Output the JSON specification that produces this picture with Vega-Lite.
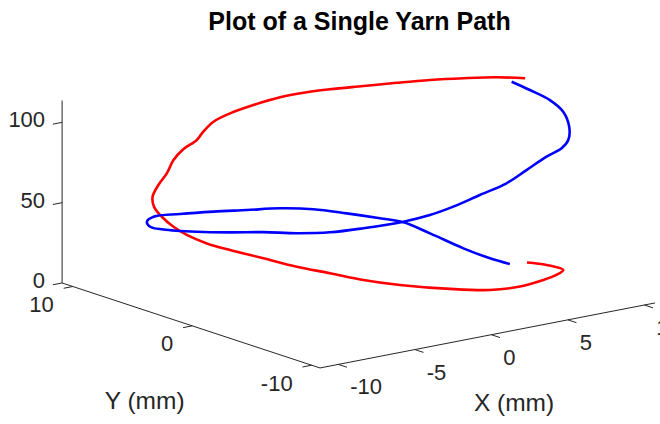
{
 "$schema": "https://vega.github.io/schema/vega-lite/v6.json",
 "width": 660,
 "height": 384,
 "autosize": {"type": "none"},
 "padding": {"left": 0, "top": 40, "right": 0, "bottom": 0},
 "background": "white",
 "title": {"text": "Plot of a Single Yarn Path", "font": "Liberation Sans", "fontSize": 25, "fontWeight": "bold", "color": "#000000", "anchor": "middle", "frame": "group", "dx": 29.5, "offset": 5},
 "config": {"view": {"stroke": null}, "text": {"font": "Liberation Sans"}},
 "data": {"values": [
  {"g":"seg","x":-11.2,"y":-10.7,"z":0,"x2":10.7,"y2":-10.7,"z2":0},
  {"g":"seg","x":-11.2,"y":-10.7,"z":0,"x2":-11.2,"y2":10.9,"z2":0},
  {"g":"seg","x":-11.2,"y":10.9,"z":0,"x2":-11.2,"y2":10.9,"z2":113.6},
  {"g":"seg","x":-10,"y":-10.7,"z":0,"x2":-10,"y2":-11.42,"z2":0},
  {"g":"seg","x":-5,"y":-10.7,"z":0,"x2":-5,"y2":-11.42,"z2":0},
  {"g":"seg","x":0,"y":-10.7,"z":0,"x2":0,"y2":-11.42,"z2":0},
  {"g":"seg","x":5,"y":-10.7,"z":0,"x2":5,"y2":-11.42,"z2":0},
  {"g":"seg","x":10,"y":-10.7,"z":0,"x2":10,"y2":-11.42,"z2":0},
  {"g":"seg","x":-11.2,"y":-10,"z":0,"x2":-11.8,"y2":-10,"z2":0},
  {"g":"seg","x":-11.2,"y":0,"z":0,"x2":-11.8,"y2":0,"z2":0},
  {"g":"seg","x":-11.2,"y":10,"z":0,"x2":-11.8,"y2":10,"z2":0},
  {"g":"seg","x":-11.2,"y":10.9,"z":0,"x2":-11.8,"y2":10.9,"z2":0},
  {"g":"seg","x":-11.2,"y":10.9,"z":50,"x2":-11.8,"y2":10.9,"z2":50},
  {"g":"seg","x":-11.2,"y":10.9,"z":100,"x2":-11.8,"y2":10.9,"z2":100},
  {"g":"red","i":1,"x":10.35,"y":-0.42,"z":0.6},
  {"g":"red","i":2,"x":10.03,"y":-2.47,"z":4.7},
  {"g":"red","i":3,"x":8.48,"y":-5.86,"z":12.7},
  {"g":"red","i":4,"x":6.12,"y":-8.30,"z":20.0},
  {"g":"red","i":5,"x":4.47,"y":-9.32,"z":22.4},
  {"g":"red","i":6,"x":2.34,"y":-10.10,"z":24.2},
  {"g":"red","i":7,"x":0.13,"y":-10.41,"z":26.9},
  {"g":"red","i":8,"x":-2.32,"y":-10.21,"z":31.6},
  {"g":"red","i":9,"x":-4.91,"y":-9.33,"z":36.7},
  {"g":"red","i":10,"x":-6.53,"y":-8.34,"z":40.4},
  {"g":"red","i":11,"x":-7.82,"y":-7.21,"z":44.2},
  {"g":"red","i":12,"x":-8.94,"y":-5.85,"z":47.0},
  {"g":"red","i":13,"x":-9.86,"y":-4.24,"z":50.0},
  {"g":"red","i":14,"x":-10.53,"y":-2.31,"z":51.6},
  {"g":"red","i":15,"x":-10.79,"y":-0.70,"z":52.3},
  {"g":"red","i":16,"x":-10.80,"y":0.97,"z":53.5},
  {"g":"red","i":17,"x":-10.60,"y":2.34,"z":54.9},
  {"g":"red","i":18,"x":-10.16,"y":3.88,"z":56.5},
  {"g":"red","i":19,"x":-9.36,"y":5.56,"z":57.2},
  {"g":"red","i":20,"x":-8.57,"y":6.69,"z":59.2},
  {"g":"red","i":21,"x":-6.92,"y":8.32,"z":59.4},
  {"g":"red","i":22,"x":-5.58,"y":9.33,"z":61.7},
  {"g":"red","i":23,"x":-4.84,"y":9.72,"z":67.7},
  {"g":"red","i":24,"x":-3.88,"y":10.13,"z":71.6},
  {"g":"red","i":25,"x":-2.73,"y":10.47,"z":74.4},
  {"g":"red","i":26,"x":-2.21,"y":10.59,"z":78.4},
  {"g":"red","i":27,"x":-1.46,"y":10.70,"z":82.9},
  {"g":"red","i":28,"x":-0.32,"y":10.77,"z":85.8},
  {"g":"red","i":29,"x":1.14,"y":10.69,"z":88.5},
  {"g":"red","i":30,"x":2.64,"y":10.38,"z":91.3},
  {"g":"red","i":31,"x":4.01,"y":9.89,"z":93.1},
  {"g":"red","i":32,"x":5.09,"y":9.34,"z":94.3},
  {"g":"red","i":33,"x":6.51,"y":8.36,"z":96.1},
  {"g":"red","i":34,"x":7.75,"y":7.15,"z":98.8},
  {"g":"red","i":35,"x":8.80,"y":5.72,"z":102.1},
  {"g":"red","i":36,"x":9.65,"y":4.01,"z":105.8},
  {"g":"red","i":37,"x":10.22,"y":1.95,"z":110.4},
  {"g":"red","i":38,"x":10.62,"y":0.08,"z":113.6},
  {"g":"blue","i":1,"x":10.62,"y":1.21,"z":108.7},
  {"g":"blue","i":2,"x":10.66,"y":-0.27,"z":107.1},
  {"g":"blue","i":3,"x":10.38,"y":-2.30,"z":106.3},
  {"g":"blue","i":4,"x":9.72,"y":-4.26,"z":105.1},
  {"g":"blue","i":5,"x":8.35,"y":-6.52,"z":103.8},
  {"g":"blue","i":6,"x":7.61,"y":-7.39,"z":99.0},
  {"g":"blue","i":7,"x":6.24,"y":-8.59,"z":99.4},
  {"g":"blue","i":8,"x":4.40,"y":-9.68,"z":100.2},
  {"g":"blue","i":9,"x":2.57,"y":-10.35,"z":96.9},
  {"g":"blue","i":10,"x":1.04,"y":-10.64,"z":92.2},
  {"g":"blue","i":11,"x":-0.75,"y":-10.70,"z":88.4},
  {"g":"blue","i":12,"x":-2.34,"y":-10.51,"z":83.6},
  {"g":"blue","i":13,"x":-3.61,"y":-10.18,"z":79.9},
  {"g":"blue","i":14,"x":-4.93,"y":-9.65,"z":76.9},
  {"g":"blue","i":15,"x":-6.72,"y":-8.58,"z":73.5},
  {"g":"blue","i":16,"x":-8.01,"y":-7.45,"z":70.6},
  {"g":"blue","i":17,"x":-9.13,"y":-6.10,"z":68.8},
  {"g":"blue","i":18,"x":-10.07,"y":-4.50,"z":67.3},
  {"g":"blue","i":19,"x":-10.76,"y":-2.61,"z":63.8},
  {"g":"blue","i":20,"x":-11.11,"y":-0.27,"z":59.1},
  {"g":"blue","i":21,"x":-10.76,"y":2.98,"z":51.9},
  {"g":"blue","i":22,"x":-9.92,"y":5.17,"z":46.7},
  {"g":"blue","i":23,"x":-8.80,"y":6.87,"z":43.6},
  {"g":"blue","i":24,"x":-6.82,"y":8.85,"z":38.2},
  {"g":"blue","i":25,"x":-3.83,"y":10.46,"z":30.4},
  {"g":"blue","i":26,"x":-1.36,"y":10.83,"z":26.4},
  {"g":"blue","i":27,"x":0.85,"y":10.87,"z":23.2},
  {"g":"blue","i":28,"x":2.83,"y":10.63,"z":21.2},
  {"g":"blue","i":29,"x":4.51,"y":9.99,"z":19.1},
  {"g":"blue","i":30,"x":6.01,"y":9.11,"z":15.9},
  {"g":"blue","i":31,"x":7.33,"y":8.02,"z":13.1},
  {"g":"blue","i":32,"x":8.17,"y":7.13,"z":11.2},
  {"g":"blue","i":33,"x":9.00,"y":5.97,"z":5.6},
  {"g":"blue","i":34,"x":9.03,"y":3.21,"z":3.0},
  {"g":"blue","i":35,"x":9.18,"y":1.18,"z":1.5},
  {"g":"blue","i":36,"x":9.48,"y":-0.10,"z":0.5},
  {"g":"lab","k":"z","x":-11.2,"y":10.9,"z":0,"t":"0"},
  {"g":"lab","k":"z","x":-11.2,"y":10.9,"z":50,"t":"50"},
  {"g":"lab","k":"z","x":-11.2,"y":10.9,"z":100,"t":"100"},
  {"g":"lab","k":"y","x":-11.2,"y":10,"z":0,"t":"10"},
  {"g":"lab","k":"y","x":-11.2,"y":0,"z":0,"t":"0"},
  {"g":"lab","k":"y","x":-11.2,"y":-10,"z":0,"t":"-10"},
  {"g":"lab","k":"x","x":-10,"y":-10.7,"z":0,"t":"-10"},
  {"g":"lab","k":"x","x":-5,"y":-10.7,"z":0,"t":"-5"},
  {"g":"lab","k":"x","x":0,"y":-10.7,"z":0,"t":"0"},
  {"g":"lab","k":"x","x":5,"y":-10.7,"z":0,"t":"5"},
  {"g":"lab","k":"x","x":10,"y":-10.7,"z":0,"t":"10"},
  {"g":"lab","k":"yt","x":-11.2,"y":0.1,"z":0,"t":"Y (mm)"},
  {"g":"lab","k":"xt","x":-0.25,"y":-10.7,"z":0,"t":"X (mm)"}
 ]},
 "transform": [
  {"calculate": "15.3*datum.x - 11.94*datum.y", "as": "u"},
  {"calculate": "2.97*datum.x + 3.935*datum.y + 1.606*datum.z", "as": "w"},
  {"calculate": "15.3*datum.x2 - 11.94*datum.y2", "as": "u2"},
  {"calculate": "2.97*datum.x2 + 3.935*datum.y2 + 1.606*datum.z2", "as": "w2"}
 ],
 "encoding": {
  "x": {"field": "u", "type": "quantitative", "scale": {"domain": [-363.6, 296.4], "nice": false, "zero": false}, "axis": null},
  "y": {"field": "w", "type": "quantitative", "scale": {"domain": [-131.4, 252.6], "nice": false, "zero": false}, "axis": null}
 },
 "layer": [
  {"transform": [{"filter": "datum.g === 'seg'"}],
   "mark": {"type": "rule", "color": "#262626", "strokeWidth": 1},
   "encoding": {"x2": {"field": "u2"}, "y2": {"field": "w2"}}},
  {"transform": [{"filter": "datum.g === 'red' || datum.g === 'blue'"}],
   "mark": {"type": "line", "strokeWidth": 2.6, "interpolate": "catmull-rom"},
   "encoding": {"color": {"field": "g", "type": "nominal", "scale": {"domain": ["red", "blue"], "range": ["#ff0000", "#0000ff"]}, "legend": null},
                "order": {"field": "i", "type": "quantitative"}}},
  {"transform": [{"filter": "datum.k === 'z'"}],
   "mark": {"type": "text", "align": "right", "baseline": "middle", "dx": -17, "dy": -2, "fontSize": 22, "color": "#262626"},
   "encoding": {"text": {"field": "t"}}},
  {"transform": [{"filter": "datum.k === 'y'"}],
   "mark": {"type": "text", "align": "right", "baseline": "middle", "dx": -19, "dy": 18.5, "fontSize": 22, "color": "#262626"},
   "encoding": {"text": {"field": "t"}}},
  {"transform": [{"filter": "datum.k === 'x'"}],
   "mark": {"type": "text", "align": "left", "baseline": "middle", "dx": 11.8, "dy": 23, "fontSize": 22, "color": "#262626"},
   "encoding": {"text": {"field": "t"}}},
  {"transform": [{"filter": "datum.k === 'yt'"}],
   "mark": {"type": "text", "align": "center", "baseline": "middle", "dx": -46.4, "dy": 77, "fontSize": 24.5, "color": "#262626"},
   "encoding": {"text": {"field": "t"}}},
  {"transform": [{"filter": "datum.k === 'xt'"}],
   "mark": {"type": "text", "align": "center", "baseline": "middle", "dx": 26.5, "dy": 68.6, "fontSize": 24.5, "color": "#262626"},
   "encoding": {"text": {"field": "t"}}}
 ]
}
